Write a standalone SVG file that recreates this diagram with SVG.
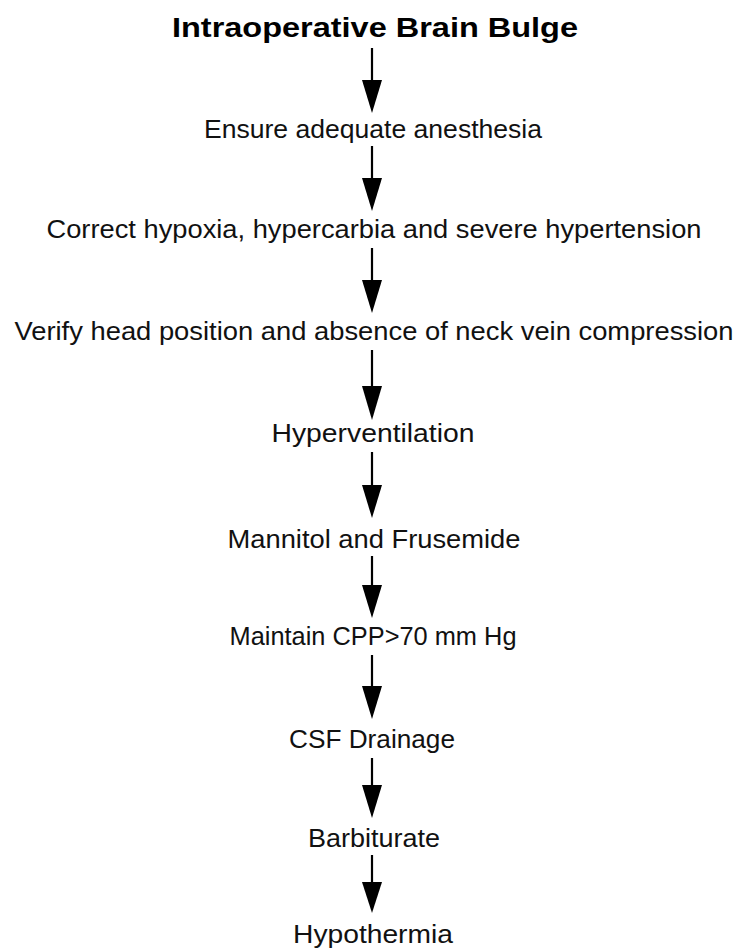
<svg xmlns="http://www.w3.org/2000/svg" width="736" height="951" viewBox="0 0 736 951">
<style>
.t{font-family:"Liberation Sans",Arial,sans-serif;font-size:26px;fill:#111;text-anchor:middle}
.h{font-family:"Liberation Sans",Arial,sans-serif;font-size:28px;font-weight:bold;fill:#000;text-anchor:middle}
.c{stroke:#000;stroke-width:2.2;fill:none}
.a{fill:#000}
</style>
<rect width="736" height="951" fill="#fff"/>
<g id="title"><text class="h" x="375" y="37" textLength="406" lengthAdjust="spacingAndGlyphs">Intraoperative Brain Bulge</text></g>
<g id="n1"><text class="t" x="373" y="138" textLength="338" lengthAdjust="spacingAndGlyphs">Ensure adequate anesthesia</text></g>
<g id="n2"><text class="t" x="374" y="238" textLength="655" lengthAdjust="spacingAndGlyphs">Correct hypoxia, hypercarbia and severe hypertension</text></g>
<g id="n3"><text class="t" x="374" y="340" textLength="719" lengthAdjust="spacingAndGlyphs">Verify head position and absence of neck vein compression</text></g>
<g id="n4"><text class="t" x="373" y="442" textLength="203" lengthAdjust="spacingAndGlyphs">Hyperventilation</text></g>
<g id="n5"><text class="t" x="374" y="548" textLength="293" lengthAdjust="spacingAndGlyphs">Mannitol and Frusemide</text></g>
<g id="n6"><text class="t" x="373" y="645" textLength="287" lengthAdjust="spacingAndGlyphs">Maintain CPP&gt;70 mm Hg</text></g>
<g id="n7"><text class="t" x="372" y="748" textLength="166" lengthAdjust="spacingAndGlyphs">CSF Drainage</text></g>
<g id="n8"><text class="t" x="374" y="847" textLength="132" lengthAdjust="spacingAndGlyphs">Barbiturate</text></g>
<g id="n9"><text class="t" x="373" y="943" textLength="160" lengthAdjust="spacingAndGlyphs">Hypothermia</text></g>
<g id="connectors">
<path class="c" d="M372,48 V100"/><polygon class="a" points="362,80 382,80 372,113"/>
<path class="c" d="M372,146 V198"/><polygon class="a" points="362,178 382,178 372,211"/>
<path class="c" d="M372,248 V300"/><polygon class="a" points="362,280 382,280 372,313"/>
<path class="c" d="M372,350 V406"/><polygon class="a" points="362,386 382,386 372,420"/>
<path class="c" d="M372,452 V505"/><polygon class="a" points="362,485 382,485 372,518"/>
<path class="c" d="M372,556 V605"/><polygon class="a" points="362,585 382,585 372,618"/>
<path class="c" d="M372,655 V706"/><polygon class="a" points="362,686 382,686 372,719"/>
<path class="c" d="M372,758 V805"/><polygon class="a" points="362,785 382,785 372,818"/>
<path class="c" d="M372,855 V900"/><polygon class="a" points="362,882 382,882 372,913"/>
</g>
</svg>
